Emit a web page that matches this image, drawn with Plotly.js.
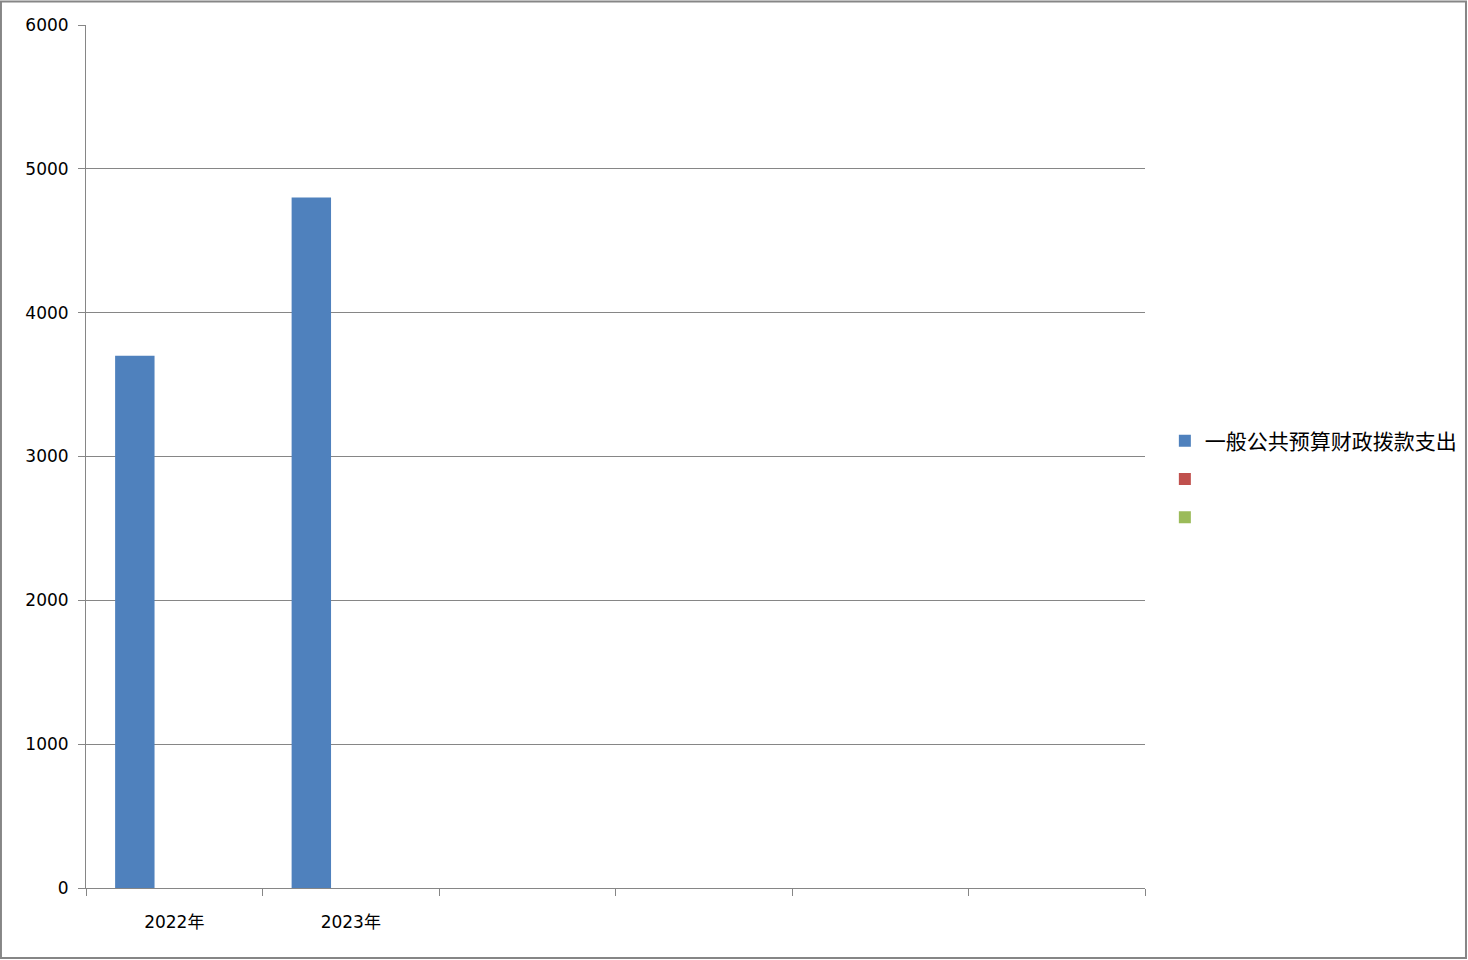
<!DOCTYPE html>
<html>
<head>
<meta charset="utf-8">
<script src="https://cdn.plot.ly/plotly-3.0.1.min.js"></script>
<style>
  html, body { margin: 0; padding: 0; background: #fff; }
  #chart { width: 1468px; height: 960px; }
</style>
</head>
<body>
<div id="chart"></div>
<script>
// Category slots along the x axis (only the first two are labelled)
const categories = ['2022年', '2023年', '', '', '', ''];

// Series names and values per category
const seriesNames = ['一般公共预算财政拨款支出', '', ''];
const seriesA = [3700, 4800, null, null, null, null];
const seriesB = [null, null, null, null, null, null];
const seriesC = [null, null, null, null, null, null];
const seriesColors = ['#4F81BD', '#C0504D', '#9BBB59'];

const yTicks = [0, 1000, 2000, 3000, 4000, 5000, 6000];

const GRAY = '#868686';
const xPos = categories.map((_, i) => i + 0.5);
const bounds = categories.map((_, i) => i).concat([categories.length]);

const traces = [seriesA, seriesB, seriesC].map((vals, k) => ({
  type: 'bar',
  x: xPos,
  y: vals,
  name: seriesNames[k],
  legendgroup: 'g' + k,
  marker: { color: seriesColors[k], line: { width: 0 } },
  hoverinfo: 'y'
}));

// Invisible trace on the overlay axis that carries the centred category labels
traces.push({
  type: 'scatter', mode: 'markers', x: xPos, y: xPos.map(() => null),
  xaxis: 'x2', showlegend: false, hoverinfo: 'skip'
});

const layout = {
  width: 1468,
  height: 960,
  paper_bgcolor: '#ffffff',
  plot_bgcolor: '#ffffff',
  margin: { l: 86, r: 323, t: 25, b: 72 },
  barmode: 'group',
  bargap: 0.33,
  bargroupgap: 0,
  font: { family: 'DejaVu Sans, Noto Sans CJK SC, sans-serif', size: 17, color: '#000' },
  xaxis: {
    range: [0, categories.length],
    tickvals: bounds,
    ticktext: bounds.map(() => ''),
    ticks: 'outside', ticklen: 7, tickwidth: 1, tickcolor: GRAY,
    showline: true, linecolor: GRAY, linewidth: 1,
    showgrid: false, zeroline: false, fixedrange: true
  },
  xaxis2: {
    overlaying: 'x', matches: 'x', side: 'bottom',
    range: [0, categories.length],
    tickvals: xPos, ticktext: categories,
    ticks: '', showline: false, showgrid: false, zeroline: false,
    ticklabelstandoff: 22,
    tickfont: { family: 'DejaVu Sans, Noto Sans CJK SC, sans-serif', size: 17, color: '#000' }
  },
  yaxis: {
    range: [0, 6000],
    tickvals: yTicks,
    ticks: 'outside', ticklen: 7, tickwidth: 1, tickcolor: GRAY,
    showline: true, linecolor: GRAY, linewidth: 1,
    showgrid: true, gridcolor: GRAY, gridwidth: 1,
    zeroline: false, ticklabelstandoff: 6,
    tickfont: { family: 'DejaVu Sans, sans-serif', size: 17, color: '#000' }
  },
  showlegend: true,
  legend: {
    xref: 'container', yref: 'container',
    x: 0.7935, xanchor: 'left',
    y: 0.562, yanchor: 'top',
    bgcolor: 'rgba(0,0,0,0)', borderwidth: 0,
    tracegroupgap: 8,
    font: { family: 'Noto Sans CJK SC, sans-serif', size: 21, color: '#000' }
  },
  shapes: [{
    type: 'rect', xref: 'paper', yref: 'paper',
    x0: -0.0803, x1: 1.3031, y0: -0.0811, y1: 1.0273,
    line: { color: GRAY, width: 2 }, fillcolor: 'rgba(0,0,0,0)', layer: 'below'
  }]
};

Plotly.newPlot('chart', traces, layout, { displayModeBar: false, staticPlot: true });
</script>
</body>
</html>
